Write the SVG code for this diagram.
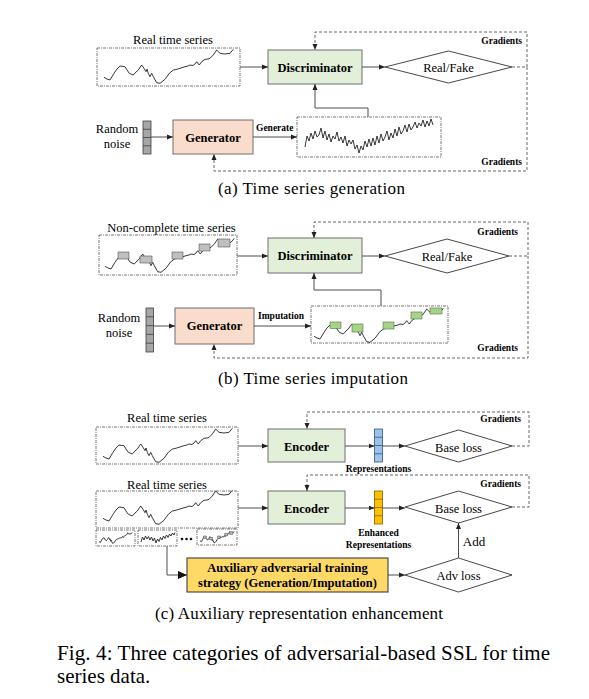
<svg xmlns="http://www.w3.org/2000/svg" xmlns:xlink="http://www.w3.org/1999/xlink" width="589" height="699" viewBox="0 0 589 699">
<style>
.t{font-family:"Liberation Serif","Times New Roman",serif;fill:#000}
.lbl{font-size:12.5px}
.b{font-weight:bold}
.sm{font-size:9.5px;font-weight:bold}
.cap{font-size:17px}
.fig{font-size:21px}
.mid{text-anchor:middle}
.end{text-anchor:end}
.tsbox{fill:#fff;stroke:#555;stroke-width:0.8;stroke-dasharray:3,1,1,1}
.curve{fill:none;stroke:#222;stroke-width:0.9;stroke-linejoin:round}
.green{fill:#e2efd9;stroke:#6e6e6e;stroke-width:1}
.peach{fill:#f9dccb;stroke:#6e6e6e;stroke-width:1}
.dia{fill:#fff;stroke:#333;stroke-width:0.9}
.vec{fill:#a6a6a6;stroke:#404040;stroke-width:0.8}
.line{fill:none;stroke:#4d4d4d;stroke-width:1}
.dash{fill:none;stroke:#555;stroke-width:0.9;stroke-dasharray:3,2}
.gbox{fill:#bfbfbf;stroke:#555;stroke-width:0.6}
.grbox{fill:#a9d18e;stroke:#4e7a30;stroke-width:0.6}
</style>
<defs>
<marker id="ah" markerWidth="7" markerHeight="6" refX="6" refY="3" orient="auto" markerUnits="userSpaceOnUse"><path d="M0,0.5 L6,3 L0,5.5 z" fill="#222"/></marker>
<marker id="ahb" markerWidth="10" markerHeight="9" refX="9" refY="4.5" orient="auto" markerUnits="userSpaceOnUse"><path d="M0,0.5 L9,4.5 L0,8.5 z" fill="#111"/></marker>
<path id="smooth" vector-effect="non-scaling-stroke" d="M104,77.3 L107,79 L110,80 L114,73.3 L117,69 L120,66 L125,66.7 L127,70 L129.3,73.3 L133.3,75 L136,72 L138.3,70 L141.7,65 L144,68.3 L146,71.7 L147,69 L148.3,73.3 L150,76.7 L151.7,73.3 L153.3,76.7 L156.7,82.7 L160,83.3 L165,79.3 L169.3,73.3 L173.3,70 L176,69.5 L180,68.3 L185,66.7 L188,66 L190,65 L193,65.5 L195,64 L196.7,61.7 L199.3,65 L201.7,61.7 L205,59.3 L208,59 L210,58.3 L213.3,55 L216.7,50 L220,53.3 L225,54 L230,53.3 L233.3,49.3"/>
<path id="noisy" d="M305,147 L307,136 L309,141 L311,133 L313,139 L315,131 L317,137 L319,135 L321,128 L323,138 L325,131 L327,140 L329,134 L331,142 L333,136 L335,139 L337,132 L339,141 L341,137 L343,143 L345,136 L347,146 L349,140 L351,144 L353,140 L355,149 L357,145 L359,153 L361,146 L363,150 L365,141 L367,147 L369,139 L371,146 L373,138 L375,145 L377,136 L379,143 L381,134 L383,141 L385,137 L387,131 L389,140 L391,133 L393,138 L395,129 L397,136 L399,127 L401,134 L403,131 L405,125 L407,132 L409,124 L411,130 L413,127 L415,122 L417,128 L419,123 L421,126 L423,120 L425,127 L427,121 L429,126 L431,119 L433,125"/>
<g id="incomplete">
<use xlink:href="#smooth" class="curve"/>
<rect x="117" y="63" width="11" height="7" class="gbox" vector-effect="non-scaling-stroke"/>
<rect x="139" y="67" width="12" height="7" class="gbox" vector-effect="non-scaling-stroke"/>
<rect x="171" y="63" width="11" height="7" class="gbox" vector-effect="non-scaling-stroke"/>
<rect x="198" y="55" width="11" height="7" class="gbox" vector-effect="non-scaling-stroke"/>
<rect x="217" y="50" width="12" height="8" class="gbox" vector-effect="non-scaling-stroke"/>
</g>
</defs>
<rect width="589" height="699" fill="#fff"/>

<!-- Panel (a) -->
<g id="a-real">
<text class="t lbl mid" x="173" y="44">Real time series</text>
<rect class="tsbox" x="97" y="48" width="143" height="38"/>
<use xlink:href="#smooth" class="curve"/>
</g>
<g id="a-disc">
<rect class="green" x="268" y="50" width="94" height="34"/>
<text class="t lbl b mid" x="315" y="71.5">Discriminator</text>
</g>
<g id="a-rf">
<polygon class="dia" points="385,67 448.5,51 512,67 448.5,83"/>
<text class="t lbl mid" x="448.5" y="72">Real/Fake</text>
</g>
<g id="a-noise">
<text class="t lbl mid" x="117" y="133">Random</text>
<text class="t lbl mid" x="117" y="148">noise</text>
<rect class="vec" x="143" y="121" width="8" height="33"/>
<path d="M143,129.25 H151 M143,137.5 H151 M143,145.75 H151" stroke="#404040" stroke-width="0.8"/>
</g>
<g id="a-gen">
<rect class="peach" x="173" y="120" width="80" height="34"/>
<text class="t lbl b mid" x="213" y="141.5">Generator</text>
</g>
<g id="a-fake">
<rect class="tsbox" x="297" y="117" width="144" height="40"/>
<use xlink:href="#noisy" class="curve"/>
</g>

<!-- Panel (b) -->
<g id="b-real">
<text class="t lbl mid" x="171.5" y="231.5">Non-complete time series</text>
<rect class="tsbox" x="99" y="235" width="138" height="40"/>
<use xlink:href="#incomplete" transform="translate(1,189)"/>
</g>
<g id="b-disc">
<rect class="green" x="268" y="238" width="94" height="35"/>
<text class="t lbl b mid" x="315" y="260">Discriminator</text>
</g>
<g id="b-rf">
<polygon class="dia" points="385,256 447,239 509,256 447,273"/>
<text class="t lbl mid" x="447" y="260.5">Real/Fake</text>
</g>
<g id="b-noise">
<text class="t lbl mid" x="119" y="321.5">Random</text>
<text class="t lbl mid" x="119" y="336.5">noise</text>
<rect class="vec" x="146" y="308" width="7.5" height="44"/>
<path d="M146,316.8 H153.5 M146,325.6 H153.5 M146,334.4 H153.5 M146,343.2 H153.5" stroke="#404040" stroke-width="0.8"/>
</g>
<g id="b-gen">
<rect class="peach" x="175" y="308" width="79" height="36"/>
<text class="t lbl b mid" x="214.5" y="330">Generator</text>
</g>
<g id="b-imp">
<rect class="tsbox" x="311" y="306" width="137" height="37"/>
<use xlink:href="#smooth" class="curve" transform="translate(210,259)"/>
<rect class="grbox" x="330" y="322" width="11" height="6.5"/>
<rect class="grbox" x="352" y="324" width="11" height="8"/>
<rect class="grbox" x="383" y="322" width="11" height="7"/>
<rect class="grbox" x="411" y="312" width="11" height="7"/>
<rect class="grbox" x="430" y="308" width="12" height="6"/>
</g>

<!-- Panel (c) -->
<g id="c-real1">
<text class="t lbl mid" x="167" y="422">Real time series</text>
<rect class="tsbox" x="96" y="427" width="142" height="37"/>
<use xlink:href="#smooth" class="curve" transform="translate(-1,379)"/>
</g>
<g id="c-enc1">
<rect class="green" x="268" y="429" width="77" height="33"/>
<text class="t lbl b mid" x="306.5" y="450.5">Encoder</text>
</g>
<g id="c-rep1">
<rect x="374.5" y="429" width="8" height="33" fill="#9dc3e6" stroke="#2f5597" stroke-width="0.8"/>
<path d="M374.5,437.25 H382.5 M374.5,445.5 H382.5 M374.5,453.75 H382.5" stroke="#2f5597" stroke-width="0.8"/>
<text class="t sm mid" x="378.5" y="471.5">Representations</text>
</g>
<g id="c-base1">
<polygon class="dia" points="405,446 458.5,430 512,446 458.5,462"/>
<text class="t lbl mid" x="458.5" y="451.5">Base loss</text>
</g>
<g id="c-real2">
<text class="t lbl mid" x="167" y="488.5">Real time series</text>
<rect class="tsbox" x="96" y="491" width="142" height="37"/>
<use xlink:href="#smooth" class="curve" transform="translate(-1,441)"/>
</g>
<g id="c-enc2">
<rect class="green" x="268" y="491" width="77" height="33"/>
<text class="t lbl b mid" x="306.5" y="512.5">Encoder</text>
</g>
<g id="c-rep2">
<rect x="374.5" y="491" width="8" height="33" fill="#ffc000" stroke="#7f6000" stroke-width="0.8"/>
<path d="M374.5,499.25 H382.5 M374.5,507.5 H382.5 M374.5,515.75 H382.5" stroke="#7f6000" stroke-width="0.8"/>
<text class="t sm mid" x="378.5" y="535.5">Enhanced</text>
<text class="t sm mid" x="378.5" y="547.5">Representations</text>
</g>
<g id="c-base2">
<polygon class="dia" points="405,507 458.5,491 512,507 458.5,523"/>
<text class="t lbl mid" x="458.5" y="513">Base loss</text>
</g>
<g id="c-thumbs">
<rect class="tsbox" x="96" y="530" width="39" height="16"/>
<use xlink:href="#smooth" class="curve" transform="translate(99,532.5) scale(0.255,0.32) translate(-104,-49.3)"/>
<rect class="tsbox" x="138" y="530" width="39" height="16"/>
<path class="curve" d="M141,542 L142.5,537 L144,540 L145.5,536 L147,539 L148.5,536.5 L150,540 L151.5,537 L153,541 L154.5,538 L156,543 L157.5,539 L159,541.5 L160.5,537.5 L162,540 L163.5,536 L165,538.5 L166.5,535 L168,537.5 L169.5,534 L171,536 L172.5,533 L174,535 L175,532.5"/>
<circle cx="182" cy="539" r="1.3" fill="#111"/>
<circle cx="186.5" cy="539" r="1.3" fill="#111"/>
<circle cx="191" cy="539" r="1.3" fill="#111"/>
<rect class="tsbox" x="197" y="529" width="40" height="16"/>
<use xlink:href="#incomplete" transform="translate(200,531.5) scale(0.263,0.33) translate(-104,-49.3)"/>
</g>
<g id="c-aux">
<rect x="187" y="558" width="201" height="34" fill="#ffd966" stroke="#404040" stroke-width="1.1"/>
<text class="t lbl b mid" x="287.5" y="571.5">Auxiliary adversarial training</text>
<text class="t lbl b mid" x="287.5" y="586.5">strategy (Generation/Imputation)</text>
</g>
<g id="c-adv">
<polygon class="dia" points="405,575 458.5,558 512,575 458.5,592"/>
<text class="t lbl mid" x="458.5" y="580">Adv loss</text>
</g>

<!-- Connectors -->
<g id="connectors">
<path class="line" d="M240,67 H268" marker-end="url(#ah)"/>
<path class="line" d="M362,67 H385" marker-end="url(#ah)"/>
<path class="dash" d="M512,67 H527 V32 H315 V50" marker-end="url(#ah)"/>
<path class="dash" d="M527,67 V171 H214 V154" marker-end="url(#ah)"/>
<path class="line" d="M151,137 H173" marker-end="url(#ah)"/>
<path class="line" d="M253,137 H297" marker-end="url(#ah)"/>
<path class="line" d="M368,117 V108 H315 V84" marker-end="url(#ah)"/>

<path class="line" d="M237,256 H268" marker-end="url(#ah)"/>
<path class="line" d="M362,256 H385" marker-end="url(#ah)"/>
<path class="dash" d="M509,256 H528 V222 H314 V238" marker-end="url(#ah)"/>
<path class="dash" d="M528,256 V358 H214 V344" marker-end="url(#ah)"/>
<path class="line" d="M153.5,326 H175" marker-end="url(#ah)"/>
<path class="line" d="M254,326 H311" marker-end="url(#ah)"/>
<path class="line" d="M381,306 V290 H314 V273" marker-end="url(#ah)"/>

<path class="line" d="M238,446 H268" marker-end="url(#ah)"/>
<path class="line" d="M345,446 H374.5" marker-end="url(#ah)"/>
<path class="line" d="M382.5,446 H405" marker-end="url(#ah)"/>
<path class="dash" d="M512,446 H529 V412 H307 V429" marker-end="url(#ah)"/>
<path class="line" d="M238,508 H268" marker-end="url(#ah)"/>
<path class="line" d="M345,508 H374.5" marker-end="url(#ah)"/>
<path class="line" d="M382.5,508 H405" marker-end="url(#ah)"/>
<path class="dash" d="M512,507 H529 V475 H307 V491" marker-end="url(#ah)"/>
<path class="line" d="M167,546 V575 H187" marker-end="url(#ahb)"/>
<path class="line" d="M388,575 H405" marker-end="url(#ah)"/>
<path class="line" d="M458.5,558 V523" marker-end="url(#ah)"/>
</g>

<!-- Connector labels -->
<g id="labels">
<text class="t sm" x="256" y="130.5">Generate</text>
<text class="t sm end" x="522" y="43.5">Gradients</text>
<text class="t sm end" x="522" y="164.5">Gradients</text>
<text class="t sm" x="258" y="319">Imputation</text>
<text class="t sm end" x="518" y="235">Gradients</text>
<text class="t sm end" x="518" y="350.5">Gradients</text>
<text class="t sm end" x="521" y="422">Gradients</text>
<text class="t sm end" x="521" y="487">Gradients</text>
<text class="t mid" style="font-size:13px" x="474" y="546">Add</text>
</g>

<!-- Captions -->
<g id="captions">
<text class="t cap" x="218" y="194" textLength="187">(a) Time series generation</text>
<text class="t cap" x="218" y="384" textLength="190">(b) Time series imputation</text>
<text class="t cap" x="155" y="619" textLength="288">(c) Auxiliary representation enhancement</text>
<text class="t fig" x="57" y="660" textLength="493">Fig. 4: Three categories of adversarial-based SSL for time</text>
<text class="t fig" x="57" y="683">series data.</text>
</g>
</svg>
